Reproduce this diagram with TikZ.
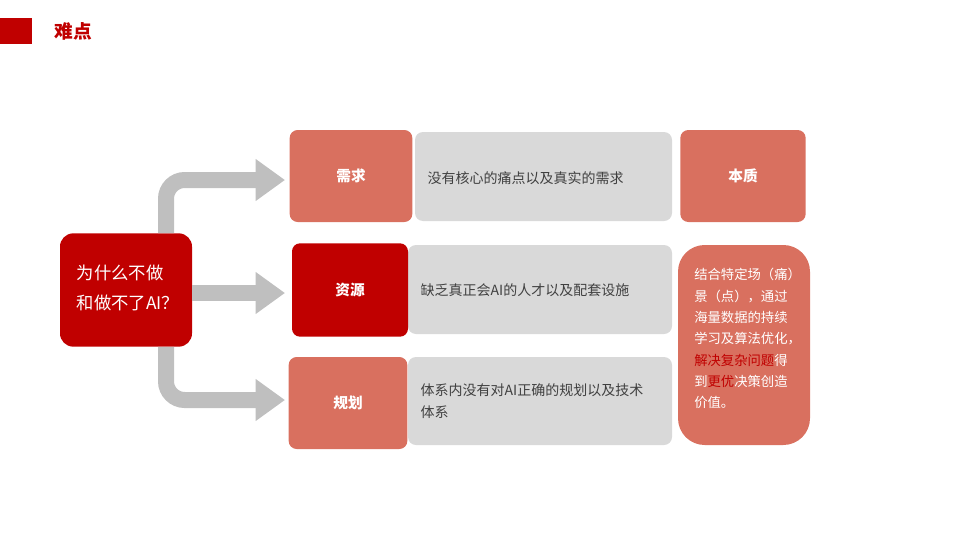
\documentclass[tikz,border=0pt]{standalone}
\usepackage{fontspec}
\newfontfamily\cjk{Noto Sans CJK SC}
\usetikzlibrary{arrows.meta}
\definecolor{dred}{HTML}{C00000}
\definecolor{sal}{HTML}{D9705F}
\definecolor{lgray}{HTML}{D9D9D9}
\definecolor{agray}{HTML}{BFBFBF}
\definecolor{tgray}{HTML}{404040}
\begin{document}
\begin{tikzpicture}[x=0.75pt,y=-0.75pt,
  box/.style={rounded corners=6pt,inner sep=0pt,draw=none},
  lbl/.style={font=\cjk\bfseries\fontsize{11}{13}\selectfont,text=white},
  desc/.style={font=\cjk\fontsize{10.5}{16}\selectfont,text=tgray,align=left,anchor=west},
  arr/.style={draw=agray,line width=12pt,rounded corners=14pt,-{Triangle[length=22pt,width=30pt]}}]
\useasboundingbox (0,0) rectangle (959,539);
\fill[dred] (0,18) rectangle (32,44);
\node[anchor=west,font=\cjk\bfseries\fontsize{14}{16}\selectfont,text=dred] (title) at (50,31) {难点};
% left
\node[box,fill=dred,minimum width=99pt,minimum height=85pt,rounded corners=10pt] (q) at (126,290) {};
\node[font=\cjk\fontsize{13}{23}\selectfont,text=white,align=left,anchor=west] (qt) at (72,288) {为什么不做\\和做不了AI？};
% gray boxes
\fill[lgray,rounded corners=6pt] (415,132) rectangle (672,221);
\fill[lgray,rounded corners=6pt] (408,245) rectangle (672,334);
\fill[lgray,rounded corners=6pt] (408,357) rectangle (672,445);
\node[desc] (d1) at (423,178) {没有核心的痛点以及真实的需求};
\node[desc] (d2) at (416,290) {缺乏真正会AI的人才以及配套设施};
\node[desc] (d3) at (416,401) {体系内没有对AI正确的规划以及技术\\体系};
% red boxes
\node[box,fill=sal,minimum width=92pt,minimum height=69pt,lbl] (b1) at (351,176) {需求};
\node[box,fill=dred,minimum width=87pt,minimum height=70pt,lbl] (b2) at (350,290) {资源};
\node[box,fill=sal,minimum width=89pt,minimum height=69pt,lbl] (b3) at (348,403) {规划};
\node[box,fill=sal,minimum width=94pt,minimum height=69pt,lbl] (b4) at (743,176) {本质};
\node[box,fill=sal,minimum width=99pt,minimum height=150pt,rounded corners=20pt] (b5) at (744,345) {};
\node[font=\cjk\fontsize{10}{16}\selectfont,text=white,align=left,anchor=north west,inner sep=0pt] (b5t) at (694,268)
 {结合特定场（痛）\\景（点），通过\\海量数据的持续\\学习及算法优化，\\{\color{dred}解决复杂问题}得\\到{\color{dred}更优}决策创造\\价值。};
% arrows
\coordinate (a1) at (285,180);
\coordinate (a2) at (285,293);
\coordinate (a3) at (285,400);
\draw[arr] (q.north -| 166,0) -- (166,180) -- (a1);
\draw[arr] (q.east |- 0,293) -- (a2);
\draw[arr] (q.south -| 166,0) -- (166,400) -- (a3);
\end{tikzpicture}
\end{document}
